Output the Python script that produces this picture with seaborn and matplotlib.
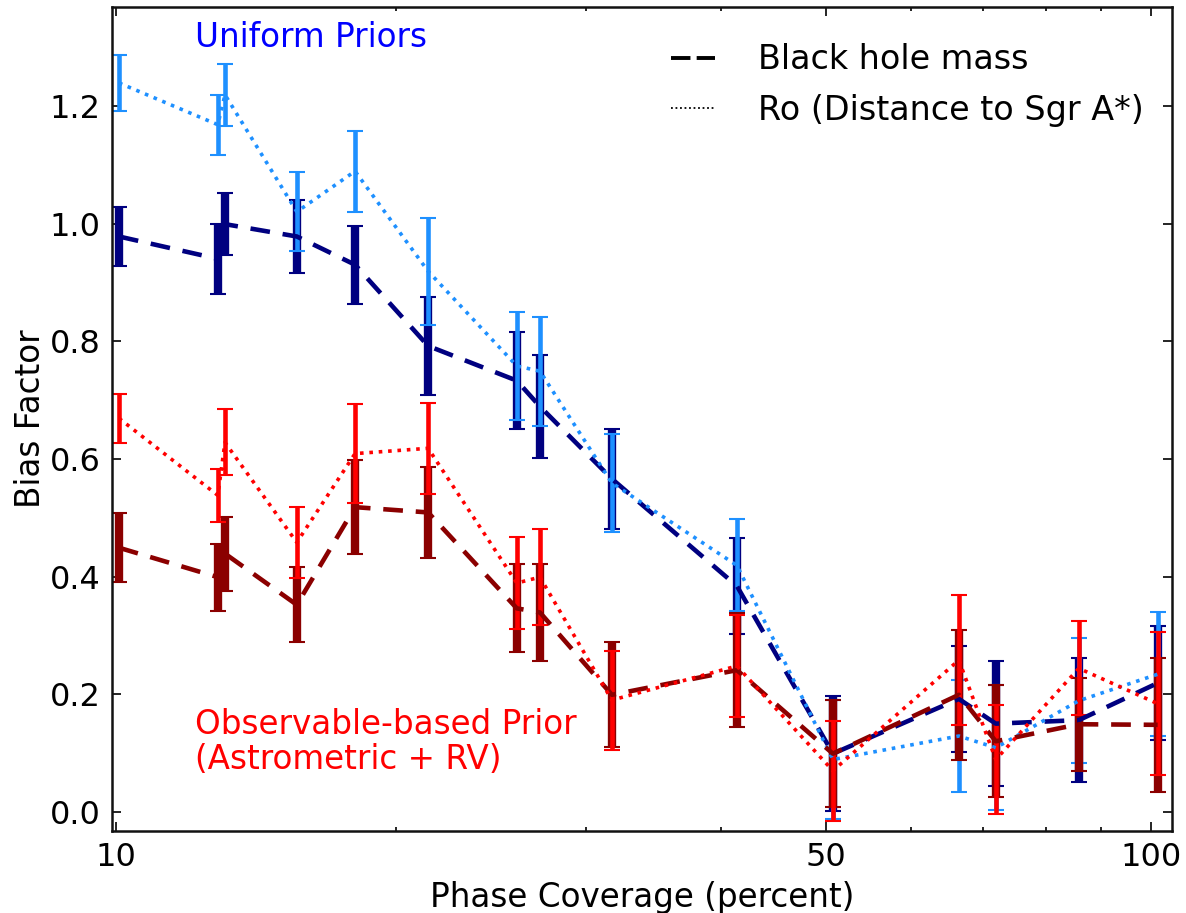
import numpy as np
import pandas as pd
import matplotlib
matplotlib.use('Agg')
import matplotlib.pyplot as plt
from matplotlib.lines import Line2D
from matplotlib.ticker import FixedLocator, NullFormatter
import seaborn as sns

sns.set_style('ticks')
plt.rcParams['font.family'] = ['DejaVu Sans']
plt.rcParams.update({'text.color': 'black', 'axes.labelcolor': 'black',
                     'xtick.color': 'black', 'ytick.color': 'black'})

# phase coverage of each run (log axis)
coverage = [11.08, 13.68, 13.89, 16.19, 18.33, 21.42, 25.88, 27.19, 31.70,
            41.38, 50.78, 66.43, 71.87, 85.80, 101.5]

# uniform priors
uni_bh = [0.978, 0.940, 0.999, 0.978, 0.930, 0.792, 0.733, 0.689, 0.566,
          0.384, 0.099, 0.192, 0.150, 0.156, 0.219]
uni_bh_err = [0.050, 0.059, 0.053, 0.062, 0.066, 0.084, 0.083, 0.088, 0.085,
              0.082, 0.098, 0.090, 0.106, 0.106, 0.097]
uni_ro = [1.239, 1.168, 1.219, 1.020, 1.089, 0.919, 0.758, 0.749, 0.559,
          0.419, 0.089, 0.129, 0.109, 0.189, 0.234]
uni_ro_err = [0.047, 0.051, 0.053, 0.067, 0.069, 0.091, 0.092, 0.093, 0.084,
              0.078, 0.101, 0.095, 0.106, 0.106, 0.105]

# observable-based prior
obs_bh = [0.449, 0.399, 0.439, 0.352, 0.518, 0.509, 0.346, 0.339, 0.199,
          0.241, 0.099, 0.199, 0.120, 0.149, 0.148]
obs_bh_err = [0.059, 0.057, 0.063, 0.064, 0.080, 0.078, 0.075, 0.083, 0.089,
              0.097, 0.091, 0.110, 0.095, 0.079, 0.114]
obs_ro = [0.669, 0.538, 0.628, 0.458, 0.609, 0.618, 0.389, 0.399, 0.190,
          0.248, 0.070, 0.258, 0.089, 0.244, 0.184]
obs_ro_err = [0.042, 0.045, 0.056, 0.061, 0.084, 0.077, 0.078, 0.081, 0.084,
              0.086, 0.085, 0.111, 0.092, 0.080, 0.121]

xtick_pos = [11.0, 50, 100]
xtick_labels = ['10', '50', '100']
xminor_pos = [20, 30, 40, 60, 70, 80, 90]

series = [
    (uni_bh, uni_bh_err, '#000080', 'bh'),
    (uni_ro, uni_ro_err, '#1E90FF', 'ro'),
    (obs_bh, obs_bh_err, '#8B0000', 'bh'),
    (obs_ro, obs_ro_err, '#FF0000', 'ro'),
]

fig = plt.figure(figsize=(11.86, 9.13), dpi=100)
ax = fig.add_axes([0.0942, 0.0901, 0.8938, 0.9022])
ax.set_xscale('log')

# error bars first, lines on top
for vals, err, col, kind in series:
    ew = 6 if kind == 'bh' else 3.3
    ax.errorbar(coverage, vals, yerr=err, fmt='none', ecolor=col,
                elinewidth=ew, capsize=5.8, capthick=1.5, zorder=2)

for vals, err, col, kind in series:
    df = pd.DataFrame({'coverage': coverage, 'bias': vals})
    if kind == 'bh':
        ls = (0, (4.3, 2.8))
        lw = 3.3
    else:
        ls = (0, (1, 1.6))
        lw = 2.6
    sns.lineplot(data=df, x='coverage', y='bias', color=col, linestyle=ls,
                 linewidth=lw, estimator=None, errorbar=None, ax=ax, zorder=3)

ax.set_xlim(10.91, 104.6)
ax.set_ylim(-0.032, 1.368)
ax.xaxis.set_major_locator(FixedLocator(xtick_pos))
ax.set_xticklabels(xtick_labels)
ax.xaxis.set_minor_locator(FixedLocator(xminor_pos))
ax.xaxis.set_minor_formatter(NullFormatter())
ax.set_yticks(np.arange(0, 1.21, 0.2))
ax.set_yticklabels(['%.1f' % v for v in np.arange(0, 1.21, 0.2)])

ax.tick_params(which='both', direction='in', top=True, right=True,
               labelsize=23, width=1.2, color='black')
ax.tick_params(which='major', length=6.5, pad=8)
ax.tick_params(which='minor', length=3)
for sp in ax.spines.values():
    sp.set_linewidth(1.8)
    sp.set_color('#111111')

ax.set_xlabel('Phase Coverage (percent)', fontsize=23.5, labelpad=6)
ax.set_ylabel('Bias Factor', fontsize=23.5, labelpad=2)

ax.text(0.0786, 0.9636, 'Uniform Priors', color='#0000FF', fontsize=23.5,
        ha='left', va='center', transform=ax.transAxes)
ax.text(0.0786, 0.1077, 'Observable-based Prior\n(Astrometric + RV)',
        color='#FF0000', fontsize=23.5, ha='left', va='center',
        linespacing=1.1, transform=ax.transAxes)

handles = [Line2D([], [], color='k', linestyle=(0, (5, 1.6)), linewidth=2.8),
           Line2D([], [], color='k', linestyle=(0, (1, 1.5)), linewidth=1.3)]
ax.legend(handles, ['Black hole mass', 'Ro (Distance to Sgr A*)'],
          loc='upper right', bbox_to_anchor=(1.008, 1.0), frameon=False,
          fontsize=24, handlelength=1.32, handletextpad=1.3,
          labelspacing=0.52, borderaxespad=0.69)

fig.savefig('out.png', dpi=100)
